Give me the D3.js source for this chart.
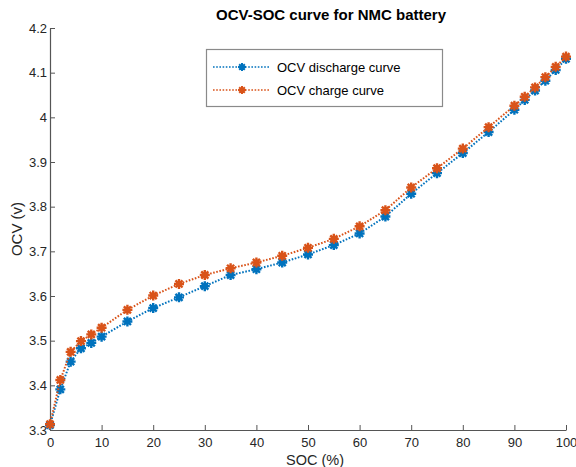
<!DOCTYPE html>
<html>
<head>
<meta charset="utf-8">
<script src="https://cdn.jsdelivr.net/npm/d3@7"></script>
<style>
  body { margin: 0; background: #fff; }
  svg { display: block; font-family: "Liberation Sans", Arial, Helvetica, sans-serif; }
</style>
</head>
<body>
<div id="chart"></div>
<script>
// SOC points (%)
const soc = [0, 2, 4, 6, 8, 10, 15, 20, 25, 30, 35, 40, 45, 50, 55, 60, 65, 70, 75, 80, 85, 90, 92, 94, 96, 98, 100];

// OCV values (V)
const ocvDischarge = [3.311, 3.391, 3.453, 3.483, 3.495, 3.509, 3.543, 3.573, 3.597, 3.622, 3.647, 3.660, 3.675, 3.693, 3.714,
  3.740, 3.778, 3.829, 3.875, 3.920, 3.967, 4.017, 4.039, 4.060, 4.082, 4.106, 4.131];
const ocvCharge = [3.313, 3.412, 3.475, 3.499, 3.514, 3.529, 3.569, 3.601, 3.627, 3.647, 3.662, 3.675, 3.690, 3.708, 3.728,
  3.756, 3.792, 3.843, 3.886, 3.930, 3.978, 4.026, 4.046, 4.067, 4.090, 4.113, 4.136];

const xTicks = [0, 10, 20, 30, 40, 50, 60, 70, 80, 90, 100];
const yTicks = [3.3, 3.4, 3.5, 3.6, 3.7, 3.8, 3.9, 4.0, 4.1, 4.2];

const series = [
  { name: "OCV discharge curve", values: ocvDischarge, color: "#0072BD" },
  { name: "OCV charge curve",    values: ocvCharge,    color: "#D95319" }
];

const W = 576, H = 467;
const plot = { left: 50, right: 566, top: 28, bottom: 430 };
const axisColor = "#555";

const svg = d3.select("#chart").append("svg")
  .attr("width", W)
  .attr("height", H);

const x = d3.scaleLinear().domain([0, 100]).range([plot.left, plot.right]);
const y = d3.scaleLinear().domain([3.3, 4.2]).range([plot.bottom, plot.top]);

// asterisk marker (+ and x combined), centred at (cx, cy)
function asterisk(cx, cy, r) {
  const d = r * Math.SQRT1_2;
  return `M${cx - r},${cy}L${cx + r},${cy}M${cx},${cy - r}L${cx},${cy + r}` +
    `M${cx - d},${cy - d}L${cx + d},${cy + d}M${cx - d},${cy + d}L${cx + d},${cy - d}`;
}

// ==== axes ====
const xAxis = svg.append("g")
  .attr("transform", `translate(0,${plot.bottom})`)
  .call(d3.axisBottom(x).tickValues(xTicks).tickSizeInner(-5).tickSizeOuter(0).tickPadding(8)
    .tickFormat(d3.format("d")));

const yAxis = svg.append("g")
  .attr("transform", `translate(${plot.left},0)`)
  .call(d3.axisLeft(y).tickValues(yTicks).tickSizeInner(-5).tickSizeOuter(0).tickPadding(3)
    .tickFormat(d => d === 4 ? "4" : d3.format(".1f")(d)));

[xAxis, yAxis].forEach(g => {
  g.select(".domain").attr("stroke", axisColor).attr("stroke-width", 1.2);
  g.selectAll(".tick line").attr("stroke", axisColor);
  g.selectAll(".tick text")
    .attr("fill", "#262626")
    .style("font-size", "13px")
    .style("font-family", "'Liberation Sans', Arial, sans-serif");
});

// axis labels + title
svg.append("text")
  .attr("x", 315).attr("y", 465)
  .attr("text-anchor", "middle")
  .style("font-size", "14.5px")
  .attr("fill", "#262626")
  .text("SOC (%)");

svg.append("text")
  .attr("transform", `translate(22,${(plot.top + plot.bottom) / 2}) rotate(-90)`)
  .attr("text-anchor", "middle")
  .style("font-size", "15px")
  .attr("fill", "#262626")
  .text("OCV (v)");

svg.append("text")
  .attr("x", 331).attr("y", 20)
  .attr("text-anchor", "middle")
  .style("font-size", "15px")
  .style("font-weight", "bold")
  .attr("fill", "#000")
  .text("OCV-SOC curve for NMC battery");

// ==== lines + markers ====
const line = d3.line()
  .x(d => x(d[0]))
  .y(d => y(d[1]));

series.forEach(s => {
  const pts = soc.map((v, i) => [v, s.values[i]]);
  const g = svg.append("g");
  g.append("path")
    .datum(pts)
    .attr("d", line)
    .attr("fill", "none")
    .attr("stroke", s.color)
    .attr("stroke-width", 2)
    .attr("stroke-dasharray", "1.6,1.6");
  g.selectAll("path.mk")
    .data(pts)
    .enter().append("path")
      .attr("class", "mk")
      .attr("d", d => asterisk(x(d[0]), y(d[1]), 5))
      .attr("fill", "none")
      .attr("stroke", s.color)
      .attr("stroke-width", 2.4);
});

// ==== legend ====
const lg = svg.append("g");
lg.append("rect")
  .attr("x", 206.5).attr("y", 49.5)
  .attr("width", 236).attr("height", 57)
  .attr("fill", "#fff")
  .attr("stroke", "#8a8a8a")
  .attr("stroke-width", 1.2);

series.forEach((s, i) => {
  const ly = 67 + i * 23;
  lg.append("line")
    .attr("x1", 213).attr("x2", 270)
    .attr("y1", ly).attr("y2", ly)
    .attr("stroke", s.color)
    .attr("stroke-width", 1.6)
    .attr("stroke-dasharray", "1.6,1.6");
  lg.append("path")
    .attr("d", asterisk(242, ly, 4))
    .attr("fill", "none")
    .attr("stroke", s.color)
    .attr("stroke-width", 2);
  lg.append("text")
    .attr("x", 277).attr("y", ly + 4.5)
    .style("font-size", "13px")
    .attr("fill", "#000")
    .text(s.name);
});
</script>
</body>
</html>
